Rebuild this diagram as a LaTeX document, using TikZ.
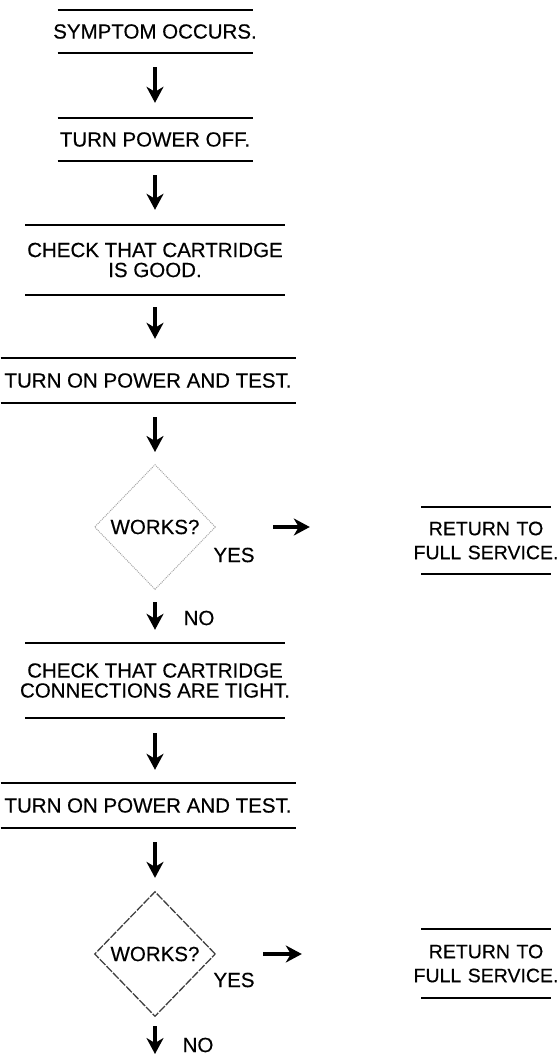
\documentclass[tikz,border=0pt]{standalone}
\usepackage{fontspec}
\setmainfont{Liberation Sans}[FakeBold=0.4]
\usetikzlibrary{shapes.geometric,arrows.meta}
\tikzset{
  rule/.style={draw=black, line width=2.2pt},
  rulebox/.style={inner sep=0pt, align=center,
    font=\fontsize{20.5}{20}\selectfont,
    append after command={
      ([xshift=-#1]\tikzlastnode.north) edge[rule] ([xshift=#1]\tikzlastnode.north)
      ([xshift=-#1]\tikzlastnode.south) edge[rule] ([xshift=#1]\tikzlastnode.south)}},
  retbox/.style={rulebox=#1, text width=150pt, font=\fontsize{19.5}{24}\selectfont},
  decision/.style={shape=diamond, inner sep=0pt, minimum width=121pt,
    minimum height=125pt, font=\fontsize{20.5}{20}\selectfont},
  faint/.style={draw=black!35, densely dotted, line width=1pt},
  rough/.style={draw=black!75, dash pattern=on 8pt off 1.5pt, line width=1.3pt},
  flow/.style={draw, line width=3.4pt,
    -{Stealth[length=16pt,width=17pt,inset=5pt]}},
  lbl/.style={font=\fontsize{20.5}{20}\selectfont, inner sep=0pt}
}
\begin{document}
\begin{tikzpicture}[x=1pt,y=-1pt]
\useasboundingbox (0,0) rectangle (558,1059);

\node[rulebox=97.5pt, minimum height=43pt] (b1) at (155,31.5) {SYMPTOM OCCURS.};
\node[rulebox=97.5pt, minimum height=43pt] (b2) at (155,139.5) {TURN POWER OFF.};
\node[rulebox=130pt, minimum height=70pt] (b3) at (155,260) {CHECK THAT CARTRIDGE\\IS GOOD.};
\node[rulebox=147.5pt, minimum height=45pt] (b4) at (148,380.5) {TURN ON POWER AND TEST.};
\node[decision, faint] (d1) at (155,527) {WORKS?};
\node[lbl] (y1) at (234,555) {YES};
\node[retbox=65pt, minimum height=67pt] (r1) at (486,540.5) {RETURN TO\\FULL SERVICE.};
\node[lbl] (n1) at (199,618) {NO};
\node[rulebox=130pt, minimum height=75pt] (b5) at (155,680.5) {CHECK THAT CARTRIDGE\\CONNECTIONS ARE TIGHT.};
\node[rulebox=147.5pt, minimum height=45pt] (b6) at (148,805.5) {TURN ON POWER AND TEST.};
\node[decision, rough] (d2) at (155,954) {WORKS?};
\node[lbl] (y2) at (234,980) {YES};
\node[retbox=65pt, minimum height=69pt] (r2) at (486,963.5) {RETURN TO\\FULL SERVICE.};
\node[lbl] (n2) at (198,1045) {NO};
\coordinate (end) at (155,1054);

\draw[flow, shorten <=14pt, shorten >=15pt] (b1.south) -- (b2.north);
\draw[flow, shorten <=14pt, shorten >=15pt] (b2.south) -- (b3.north);
\draw[flow, shorten <=12pt, shorten >=19pt] (b3.south) -- (b4.north -| b3.south);
\draw[flow, shorten <=14pt, shorten >=12pt] (b4.south -| d1.north) -- (d1.north);
\draw[flow, shorten <=12pt, shorten >=13pt] (d1.south) -- (b5.north);
\draw[flow, shorten <=15pt, shorten >=13pt] (b5.south) -- (b6.north -| b5.south);
\draw[flow, shorten <=14pt, shorten >=13pt] (b6.south -| d2.north) -- (d2.north);
\draw[flow, shorten <=9pt] (d2.south) -- (end);
\draw[flow, shorten <=57pt, shorten >=101pt] (d1.east) -- (r1.west |- d1.east);
\draw[flow, shorten <=47pt, shorten >=109pt] (d2.east) -- (r2.west |- d2.east);
\end{tikzpicture}
\end{document}
